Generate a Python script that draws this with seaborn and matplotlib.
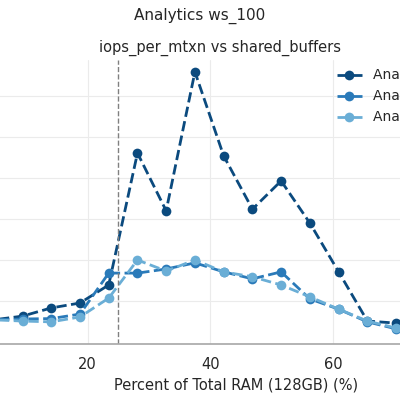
import matplotlib
matplotlib.use("Agg")
import matplotlib.pyplot as plt
import seaborn as sns
import pandas as pd

# percent of 128GB RAM for shared_buffers steps of 6GB
pct_ram = [4.69, 9.38, 14.06, 18.75, 23.44, 28.13, 32.81, 37.5, 42.19, 46.88, 51.56, 56.25, 60.94, 65.63, 70.31]
run_1 = [0.54, 0.63, 0.83, 0.95, 1.39, 4.61, 3.2, 6.59, 4.54, 3.24, 3.93, 2.9, 1.71, 0.51, 0.46]
run_2 = [0.54, 0.56, 0.57, 0.68, 1.68, 1.68, 1.78, 1.93, 1.71, 1.54, 1.71, 1.05, 0.8, 0.49, 0.32]
run_3 = [0.54, 0.51, 0.49, 0.61, 1.07, 2.0, 1.73, 2.0, 1.71, 1.59, 1.39, 1.1, 0.8, 0.51, 0.34]
labels = ["Analytics run 1", "Analytics run 2", "Analytics run 3"]
colors = ["#0b4a7e", "#2a7ab9", "#6aaed6"]

df = pd.DataFrame({"pct": pct_ram * 3,
                   "value": run_1 + run_2 + run_3,
                   "series": [labels[0]] * 15 + [labels[1]] * 15 + [labels[2]] * 15})

sns.set_theme(style="whitegrid")
fig = plt.figure(figsize=(4, 4), dpi=100)
# the view is a crop of a wider axes
ax = fig.add_axes([-0.0875, 0.14, 1.355, 0.71])

for lab, col in zip(labels, colors):
    sub = df[df.series == lab]
    sns.lineplot(data=sub, x="pct", y="value", ax=ax, color=col, label=lab,
                 linestyle="--", marker="o", markersize=7, linewidth=2,
                 markeredgewidth=0)

ax.axvline(25, color="gray", linestyle="--", linewidth=1)
ax.set_xlim(0, 88.4)
ax.set_ylim(-0.05, 6.88)
ax.set_yticks([1, 2, 3, 4, 5, 6])
ax.set_yticklabels([])
ax.set_xticks([20, 40, 60, 80])
ax.tick_params(axis="x", labelsize=10.5)
ax.grid(color="#ebebeb", linewidth=0.8)
for s in ["left", "right", "top"]:
    ax.spines[s].set_visible(False)
ax.spines["bottom"].set_color("#aaaaaa")
ax.set_xlabel("Percent of Total RAM (128GB) (%)", fontsize=10.5)
ax.set_ylabel("")
ax.set_title("iops_per_mtxn vs shared_buffers", fontsize=10.5, x=0.47)
fig.text(0.5, 0.96, "Analytics ws_100", ha="center", va="center", fontsize=11)
ax.legend(loc="upper left", bbox_to_anchor=(0.81, 0.86), bbox_transform=fig.transFigure,
          frameon=False, fontsize=10, handlelength=1.8)

fig.savefig("out.png", dpi=100)
